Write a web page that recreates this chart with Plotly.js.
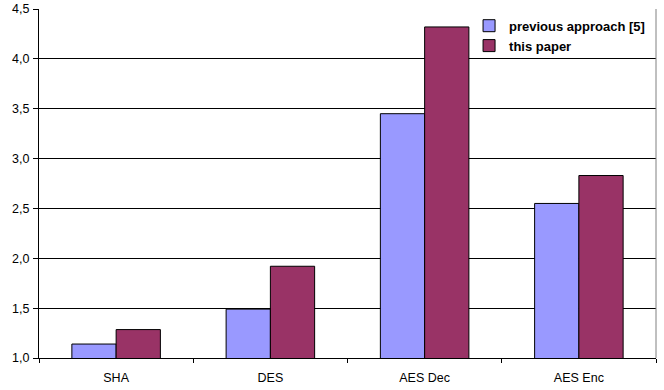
<!DOCTYPE html>
<html>
<head>
<meta charset="utf-8">
<script src="https://cdn.plot.ly/plotly-3.0.1.min.js"></script>
<style>html,body{margin:0;padding:0;background:#fff;}#chart{width:664px;height:390px;}</style>
</head>
<body>
<div id="chart"></div>
<script>
var categories = ["SHA", "DES", "AES Dec", "AES Enc"];
var previousApproach = [1.14, 1.49, 3.45, 2.55];
var thisPaper = [1.285, 1.92, 4.32, 2.83];
var seriesNames = ["previous approach [5]", "this paper"];
var yTicks = [1.0, 1.5, 2.0, 2.5, 3.0, 3.5, 4.0, 4.5];

var traces = [
  {type: "bar", x: categories, y: previousApproach, name: "<b>" + seriesNames[0] + "</b>",
   marker: {color: "#9999FF", line: {color: "#000000", width: 1}}},
  {type: "bar", x: categories, y: thisPaper, name: "<b>" + seriesNames[1] + "</b>",
   marker: {color: "#993366", line: {color: "#000000", width: 1}}}
];

var layout = {
  width: 664, height: 390,
  margin: {l: 39, r: 8, t: 9, b: 32, autoexpand: false},
  paper_bgcolor: "#ffffff", plot_bgcolor: "#ffffff",
  separators: ",.",
  font: {family: "Liberation Sans, Arial, sans-serif", size: 12.5, color: "#000000"},
  barmode: "group",
  bargap: 0.426,
  bargroupgap: 0,
  showlegend: true,
  legend: {x: 0.697, y: 0.995, xanchor: "left", yanchor: "top", bgcolor: "rgba(255,255,255,0)",
           borderwidth: 0, font: {family: "Liberation Sans, Arial, sans-serif", size: 13, color: "#000000", weight: "bold"},
           tracegroupgap: 0},
  xaxis: {
    type: "category", showgrid: false, showline: true, linecolor: "#000000", linewidth: 1,
    ticks: "outside", tickson: "boundaries", ticklen: 4, tickcolor: "#000000",
    tickfont: {size: 12.5}, zeroline: false, ticklabelstandoff: 8
  },
  yaxis: {
    range: [1, 4.5], tickvals: yTicks, tickformat: ".1f",
    showgrid: true, gridcolor: "#000000", gridwidth: 1,
    showline: true, linecolor: "#000000", linewidth: 1,
    ticks: "outside", ticklen: 5, tickcolor: "#000000",
    tickfont: {size: 12.5}, zeroline: false, ticklabelstandoff: 1
  },
  shapes: [
    {type: "line", xref: "paper", yref: "paper", x0: 1, x1: 1, y0: 0, y1: 1,
     line: {color: "#808080", width: 1}}
  ]
};

Plotly.newPlot("chart", traces, layout, {displayModeBar: false, staticPlot: true});
</script>
</body>
</html>
